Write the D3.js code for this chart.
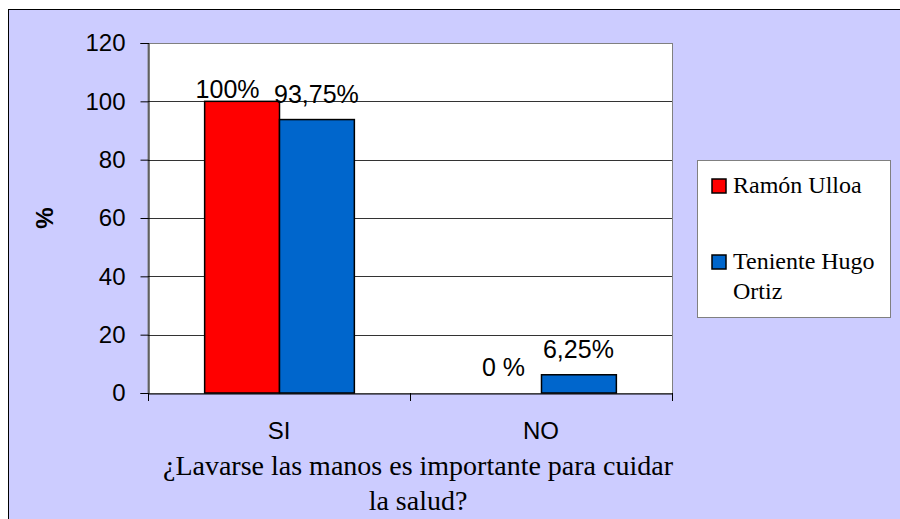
<!DOCTYPE html>
<html>
<head>
<meta charset="utf-8">
<script src="https://cdn.jsdelivr.net/npm/d3@7"></script>
<style>
  body { margin:0; background:#fff; }
  svg { display:block; }
  .sans { font-family:'Liberation Sans', Arial, sans-serif; }
  .serif { font-family:'Liberation Serif', 'Times New Roman', serif; }
</style>
</head>
<body>
<div id="chart"></div>
<script>
// bar chart - hand washing survey

var categories = ["SI", "NO"];
var seriesNames = ["Ramón Ulloa", "Teniente Hugo Ortiz"];
var ramonValues = [100, 0];
var hugoValues = [93.75, 6.25];
var ramonLabels = ["100%", "0 %"];
var hugoLabels = ["93,75%", "6,25%"];
var yTicks = [0, 20, 40, 60, 80, 100, 120];
var colors = ["#ff0000", "#0066cc"];

var W = 900, H = 519;
var plot = {left:148, top:43, right:672, bottom:393};

var svg = d3.select("#chart").append("svg")
    .attr("width", W)
    .attr("height", H);

// outer panel
svg.append("rect")
    .attr("x", 8.5).attr("y", 9.5)
    .attr("width", W + 10).attr("height", H + 10)
    .attr("fill", "#ccccff")
    .attr("stroke", "#000");

var x0 = d3.scaleBand()
    .domain(categories)
    .range([plot.left, plot.right]);

var x1 = d3.scaleBand()
    .domain([0, 1])
    .range([0, x0.bandwidth()])
    .paddingInner(0)
    .paddingOuter(0.75);

var y = d3.scaleLinear()
    .domain([0, 120])
    .range([plot.bottom, plot.top]);

// plot area
svg.append("rect")
    .attr("x", plot.left).attr("y", plot.top + 0.5)
    .attr("width", plot.right - plot.left + 0.5)
    .attr("height", plot.bottom - plot.top)
    .attr("fill", "#fff")
    .attr("stroke", "#808080");

// grid lines
svg.append("g")
    .selectAll("line")
    .data(yTicks.filter(d => d > 0 && d < 120))
    .enter()
    .append("line")
    .attr("x1", plot.left).attr("x2", plot.right)
    .attr("y1", d => Math.round(y(d)) + 0.5)
    .attr("y2", d => Math.round(y(d)) + 0.5)
    .attr("stroke", "#333");

// y axis
var yAxis = svg.append("g")
    .attr("transform", "translate(" + (plot.left + 0.5) + ",0)")
    .call(d3.axisLeft(y).tickValues(yTicks).tickSize(8).tickPadding(15));
yAxis.attr("font-family", null).attr("font-size", null).attr("class", "sans");
yAxis.selectAll(".tick text").style("font-size", "24px").attr("fill", "#000");
yAxis.select(".domain").attr("stroke", "#000");
yAxis.selectAll(".tick line").attr("stroke", "#000");

// x axis
var xAxis = svg.append("g")
    .attr("transform", "translate(0," + (plot.bottom + 0.5) + ")")
    .call(d3.axisBottom(x0).tickSize(0).tickPadding(28));
xAxis.attr("font-family", null).attr("font-size", null).attr("class", "sans");
xAxis.selectAll(".tick text").style("font-size", "24px").attr("fill", "#000");
xAxis.select(".domain").attr("stroke", "#000");
// category separators
svg.append("g")
    .selectAll("line")
    .data([plot.left, x0("NO"), plot.right])
    .enter()
    .append("line")
    .attr("x1", d => Math.round(d) + 0.5).attr("x2", d => Math.round(d) + 0.5)
    .attr("y1", plot.bottom).attr("y2", plot.bottom + 8)
    .attr("stroke", "#000");

// bars
var series = [ramonValues, hugoValues];
var labels = [ramonLabels, hugoLabels];
series.forEach(function(vals, s){
    svg.append("g")
        .selectAll("rect")
        .data(vals.map((v, i) => ({v:v, c:categories[i]})).filter(d => d.v > 0))
        .enter()
        .append("rect")
        .attr("x", d => x0(d.c) + x1(s) + 0.5)
        .attr("y", d => y(d.v))
        .attr("width", x1.bandwidth())
        .attr("height", d => y(0) - y(d.v))
        .attr("fill", colors[s])
        .attr("stroke", "#000")
        .attr("stroke-width", 1.5);

    // value labels, nudged apart where they would collide
    svg.append("g")
        .attr("class", "sans")
        .selectAll("text")
        .data(vals)
        .enter()
        .append("text")
        .attr("x", (d, i) => x0(categories[i]) + x1(s) + x1.bandwidth() / 2 + (s === 0 && d === 100 ? -14 : 0))
        .attr("y", d => Math.max(y(d) - 17, y(101)))
        .attr("text-anchor", "middle")
        .style("font-size", "25px")
        .text((d, i) => labels[s][i]);
});

// y title
svg.append("text")
    .attr("class", "sans")
    .attr("transform", "translate(53,218) rotate(-90)")
    .attr("text-anchor", "middle")
    .style("font-size", "24px")
    .style("font-weight", "bold")
    .text("%");

// x title
var xTitle = svg.append("text")
    .attr("class", "serif")
    .attr("text-anchor", "middle")
    .style("font-size", "28px");
xTitle.append("tspan").attr("x", 418).attr("y", 475)
    .text("¿Lavarse las manos es importante para cuidar");
xTitle.append("tspan").attr("x", 418).attr("y", 510)
    .text("la salud?");

// legend
var legend = svg.append("g");
legend.append("rect")
    .attr("x", 697.5).attr("y", 160.5)
    .attr("width", 193).attr("height", 157)
    .attr("fill", "#fff")
    .attr("stroke", "#808080");

var legendLines = [["Ramón Ulloa"], ["Teniente Hugo", "Ortiz"]];
var legendY = [193, 269];
legendLines.forEach(function(lines, i){
    legend.append("rect")
        .attr("x", 712).attr("y", legendY[i] - 14)
        .attr("width", 14).attr("height", 14)
        .attr("fill", colors[i])
        .attr("stroke", "#000")
        .attr("stroke-width", 1.5);
    var t = legend.append("text")
        .attr("class", "serif")
        .style("font-size", "24px");
    lines.forEach(function(line, j){
        t.append("tspan").attr("x", 733).attr("y", legendY[i] + j * 30).text(line);
    });
});
</script>
</body>
</html>
